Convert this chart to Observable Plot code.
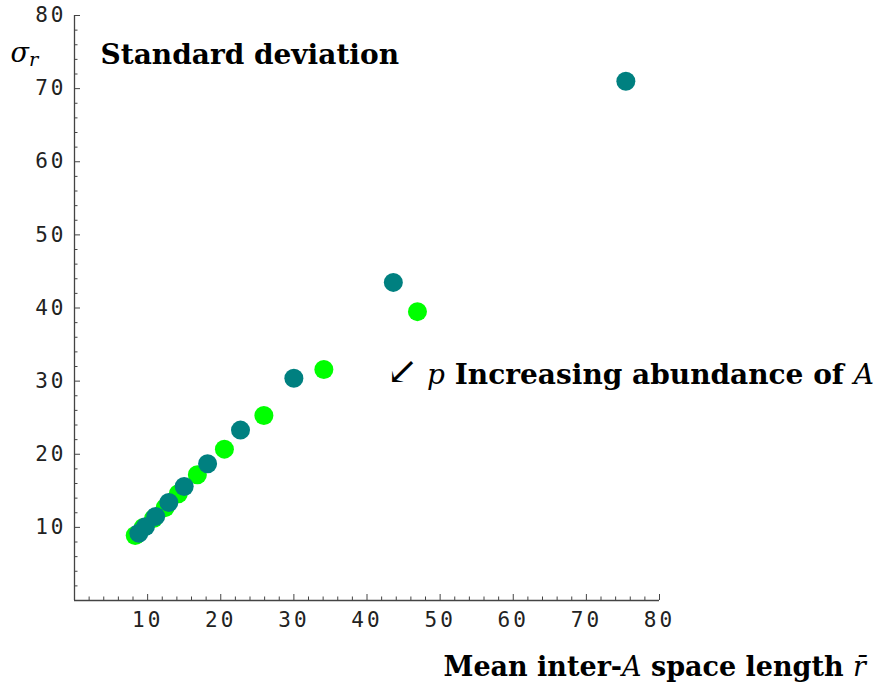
<!DOCTYPE html>
<html><head><meta charset="utf-8">
<script src="https://cdn.jsdelivr.net/npm/d3@7"></script>
<script src="https://cdn.jsdelivr.net/npm/@observablehq/plot@0.6"></script>
<style>body{margin:0;background:#fff;} #chart svg{display:block;}</style>
</head><body><div id="chart"></div>
<script>
// Green series (drawn first)
const greenX = [8.3, 9.4, 10.8, 12.4, 14.2, 16.8, 20.5, 25.9, 34.1, 46.9];
const greenY = [8.9, 10.0, 11.2, 12.7, 14.6, 17.2, 20.7, 25.3, 31.6, 39.5];
// Teal series (drawn on top)
const tealX = [8.8, 9.7, 11.1, 12.9, 15.0, 18.2, 22.7, 30.0, 43.6, 75.4];
const tealY = [9.2, 10.1, 11.5, 13.4, 15.6, 18.7, 23.3, 30.4, 43.5, 71.0];

const xTickLabels = [10, 20, 30, 40, 50, 60, 70, 80];
const yTickLabels = [10, 20, 30, 40, 50, 60, 70, 80];
const minorTicks = [2,4,6,8,12,14,16,18,22,24,26,28,32,34,36,38,42,44,46,48,52,54,56,58,62,64,66,68,72,74,76,78];

const titleText = "Standard deviation";
const yLabelText = "σr";
const noteText = "↙ p Increasing abundance of A";
const xLabelText = "Mean inter-A space length r̄";

const green = greenX.map((x, i) => ({x, y: greenY[i]}));
const teal = tealX.map((x, i) => ({x, y: tealY[i]}));

const tickFont = {fontFamily: "DejaVu Sans Mono", fontSize: 21};

const chart = Plot.plot({
  width: 876, height: 687,
  marginLeft: 74, marginRight: 217, marginTop: 15, marginBottom: 87,
  x: {domain: [0, 80]},
  y: {domain: [0, 80]},
  style: {background: "#fff", color: "#222", overflow: "visible"},
  marks: [
    Plot.ruleX([0], {stroke: "#444", strokeWidth: 1.3}),
    Plot.ruleY([0], {stroke: "#444", strokeWidth: 1.3}),
    Plot.axisX(minorTicks, {tickSize: -3.5, text: null, label: null, stroke: "#444"}),
    Plot.axisX(xTickLabels, {tickSize: -6, text: null, label: null, stroke: "#444"}),
    Plot.axisX(xTickLabels, {tickSize: 0, tickPadding: 12, label: null, ...tickFont, fill: "#222"}),
    Plot.axisY(minorTicks, {tickSize: -3.5, text: null, label: null, stroke: "#444"}),
    Plot.axisY(yTickLabels, {tickSize: -6, text: null, label: null, stroke: "#444"}),
    Plot.axisY(yTickLabels, {tickSize: 0, tickPadding: 8, label: null, ...tickFont, fill: "#222"}),
    Plot.dot(green, {x: "x", y: "y", r: 9.5, fill: "#00ff00"}),
    Plot.dot(teal, {x: "x", y: "y", r: 9.5, fill: "#008080"}),
    Plot.text([titleText], {text: d => d, frameAnchor: "top-left", textAnchor: "start", lineAnchor: "bottom", dx: 26, dy: 48, fontFamily: "DejaVu Serif", fontSize: 28, fontWeight: "bold", fill: "#000"}),
    Plot.text([yLabelText], {text: d => d, frameAnchor: "top-left", textAnchor: "start", lineAnchor: "bottom", dx: -64, dy: 46, fontFamily: "DejaVu Serif", fontSize: 27, fill: "#000"}),
    Plot.text([noteText], {text: d => d, frameAnchor: "top-left", textAnchor: "start", lineAnchor: "bottom", dx: 312, dy: 368, fontFamily: "DejaVu Serif", fontSize: 28, fill: "#000"}),
    Plot.text([xLabelText], {text: d => d, frameAnchor: "top-left", textAnchor: "start", lineAnchor: "bottom", dx: 369, dy: 660, fontFamily: "DejaVu Serif", fontSize: 27, fill: "#000"})
  ]
});
document.getElementById("chart").appendChild(chart);

// Rich-text styling of annotation segments (italic math symbols, bold words)
function styleText(content, parts) {
  const t = Array.from(chart.querySelectorAll("text")).find(e => e.textContent === content);
  if (!t) return;
  while (t.firstChild) t.removeChild(t.firstChild);
  for (const [s, kind] of parts) {
    const ts = document.createElementNS("http://www.w3.org/2000/svg", "tspan");
    ts.textContent = s;
    if (kind === "b") ts.setAttribute("font-weight", "bold");
    if (kind === "i") ts.setAttribute("font-style", "italic");
    if (kind === "arrow") { ts.setAttribute("font-size", "1.35em"); }
    if (kind === "sub") { ts.setAttribute("font-style", "italic"); ts.setAttribute("font-size", "0.72em"); ts.setAttribute("dy", "0.25em"); }
    t.appendChild(ts);
  }
}
styleText(yLabelText, [["σ", "i"], ["r", "sub"]]);
styleText(noteText, [["↙", "arrow"], [" ", "n"], ["p", "i"], [" Increasing abundance of ", "b"], ["A", "i"]]);
styleText(xLabelText, [["Mean inter-", "b"], ["A", "i"], [" space length ", "b"], ["r̄", "i"]]);
chart.querySelectorAll("text").forEach(t => { if (/^\d+$/.test(t.textContent)) t.setAttribute("letter-spacing", "3"); });
</script>
</body></html>
